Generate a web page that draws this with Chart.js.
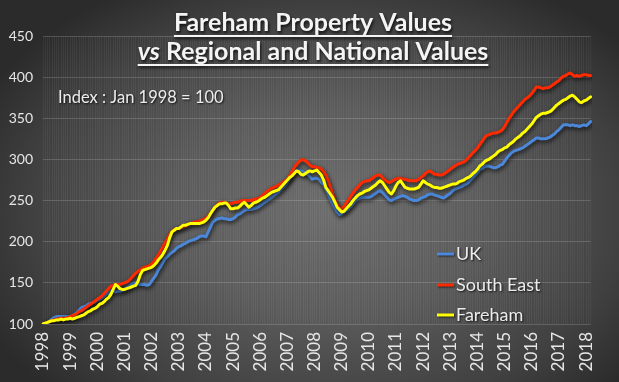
<!DOCTYPE html>
<html>
<head>
<meta charset="utf-8">
<script src="https://cdn.jsdelivr.net/npm/chart.js@4"></script>
<style>
  html, body { margin: 0; padding: 0; }
  body {
    width: 619px; height: 382px; overflow: hidden;
    background: radial-gradient(ellipse 62% 68% at 53% 55%, #6c6c6c 0%, #5b5b5b 40%, #404040 78%, #2b2b2b 100%);
  }
  #wrap { position: relative; width: 619px; height: 382px; }
</style>
</head>
<body>
<div id="wrap"><canvas id="c" width="619" height="382"></canvas></div>
<script>
const years = ['1998','1999','2000','2001','2002','2003','2004','2005','2006','2007','2008','2009','2010','2011','2012','2013','2014','2015','2016','2017','2018'];
const seriesNames = ['UK', 'South East', 'Fareham'];

const ukValues = [
  100,101,102,104,106,108,109,109,109,109,109,109,
  109,110,112,114,117,120,121,122,124,125,126,127,
  129,130,132,134,136,138,140,140,139,140,140,141,
  142,144,146,148,150,150,149,148,148,148,147,148,
  152,156,160,166,170,175,180,182,185,187,189,192,
  194,195,197,198,200,201,202,203,204,206,207,207,
  206,212,218,224,226,228,228,229,228,228,227,227,
  228,230,233,234,236,238,239,239,239,240,241,242,
  244,246,248,250,252,254,256,258,260,263,266,268,
  272,276,280,285,287,287,286,285,283,282,279,276,
  277,277,276,272,270,264,258,252,246,241,236,233,
  234,236,238,240,243,246,250,252,253,254,254,254,
  254,255,257,259,261,262,260,257,254,251,250,252,
  253,254,255,256,255,254,252,251,250,250,251,253,
  254,255,257,258,258,257,256,255,254,253,255,257,
  259,262,264,265,266,267,269,270,272,275,278,281,
  284,288,289,291,292,292,291,290,290,291,293,294,
  298,302,305,308,310,311,312,313,314,316,318,320,
  322,324,326,326,325,325,325,326,327,329,331,334,
  336,339,342,342,342,341,342,341,341,340,341,342,
  341,343,346
];

const southEastValues = [
  100,101,102,103,104,105,106,106,107,107,107,108,
  109,110,111,113,115,116,118,120,122,124,126,128,
  130,132,134,137,140,143,146,147,148,148,148,149,
  150,151,153,156,159,162,164,166,168,169,170,171,
  173,176,180,184,189,194,199,204,209,212,215,216,
  216,217,218,219,221,222,223,224,224,225,226,227,
  229,231,234,238,242,245,247,248,248,247,246,246,
  247,248,248,249,250,250,250,250,250,251,252,252,
  254,256,259,261,263,265,266,267,269,270,272,274,
  276,280,285,290,294,297,299,300,298,296,293,291,
  291,290,290,288,285,281,274,266,258,250,245,241,
  240,243,247,251,255,259,263,266,269,272,273,274,
  274,276,278,280,281,281,278,275,273,272,273,275,
  276,277,277,276,276,275,274,274,274,274,276,278,
  280,283,285,286,284,282,282,281,281,282,284,286,
  288,290,292,294,295,296,297,299,302,305,308,311,
  314,318,322,326,329,330,331,332,332,333,334,336,
  340,345,350,354,358,361,364,367,370,373,375,377,
  380,384,388,388,387,386,387,387,388,390,392,394,
  396,399,401,402,404,405,403,401,402,401,402,403,
  403,402,402
];

const farehamValues = [
  100,101,102,103,104,104,105,105,106,105,106,106,
  107,106,107,108,109,110,111,113,115,116,118,119,
  121,124,125,127,130,132,136,142,148,146,143,142,
  142,143,144,145,146,147,152,160,165,166,167,168,
  169,171,174,178,181,185,190,196,205,212,214,216,
  216,218,220,220,221,222,222,222,222,222,223,224,
  226,229,234,238,242,244,246,246,247,247,244,240,
  240,241,241,243,246,248,245,242,244,247,248,249,
  251,253,254,256,258,260,261,262,263,266,269,272,
  275,278,280,283,286,285,282,281,283,285,286,285,
  286,287,284,281,275,266,262,258,254,248,242,239,
  236,237,240,243,246,250,253,256,258,259,261,262,
  263,265,267,269,272,274,272,268,264,260,258,262,
  268,272,274,270,266,265,264,264,264,265,266,270,
  274,272,270,269,267,266,266,265,265,266,267,268,
  269,270,270,271,273,274,275,277,278,280,283,285,
  288,292,294,297,299,300,302,304,306,309,311,312,
  314,315,318,320,322,325,327,329,332,334,337,340,
  343,347,351,353,355,356,356,357,358,360,363,366,
  368,370,372,373,375,377,378,376,373,370,369,371,
  372,374,376
];

const yTicks = [100,150,200,250,300,350,400,450];
const seriesColors = ['#4C88DA', '#FF2A00', '#FFFF00'];

const monthLabels = ukValues.map((_, i) => years[Math.floor(i / 12)] + '-' + String(i % 12 + 1).padStart(2, '0'));

const FONT = 'Lato, "Open Sans", "DejaVu Sans", sans-serif';

const shadowPlugin = {
  id: 'lineShadow',
  beforeDatasetDraw(chart) {
    const ctx = chart.ctx;
    ctx.save();
    ctx.shadowColor = 'rgba(0,0,0,0.75)';
    ctx.shadowBlur = 4;
    ctx.shadowOffsetX = 1;
    ctx.shadowOffsetY = 2;
  },
  afterDatasetDraw(chart) {
    chart.ctx.restore();
  }
};

const overlayPlugin = {
  id: 'overlay',
  afterDraw(chart) {
    const ctx = chart.ctx;
    const cx = 313;
    ctx.save();
    ctx.fillStyle = '#f4f4f4';
    ctx.strokeStyle = '#f4f4f4';
    ctx.shadowColor = 'rgba(0,0,0,0.8)';
    ctx.shadowBlur = 3;
    ctx.shadowOffsetX = 1;
    ctx.shadowOffsetY = 2;
    ctx.textBaseline = 'alphabetic';
    ctx.textAlign = 'left';

    const TS = 25;
    // Title line 1
    ctx.font = 'bold ' + TS + 'px ' + FONT;
    const t1 = 'Fareham Property Values';
    const w1 = ctx.measureText(t1).width;
    ctx.fillText(t1, cx - w1 / 2, 31);
    ctx.fillRect(cx - w1 / 2, 35, w1, 2);

    // Title line 2 (mixed italic)
    const a = 'vs';
    const b = ' Regional and National Values';
    ctx.font = 'italic bold ' + TS + 'px ' + FONT;
    const wa = ctx.measureText(a).width;
    ctx.font = 'bold ' + TS + 'px ' + FONT;
    const wb = ctx.measureText(b).width;
    const x2 = cx - (wa + wb) / 2;
    ctx.font = 'italic bold ' + TS + 'px ' + FONT;
    ctx.fillText(a, x2, 60);
    ctx.font = 'bold ' + TS + 'px ' + FONT;
    ctx.fillText(b, x2 + wa, 60);
    ctx.fillRect(x2, 64, wa + wb, 2);

    // Subtitle
    ctx.shadowBlur = 2;
    ctx.shadowOffsetY = 1;
    ctx.font = '16.5px ' + FONT;
    ctx.fillStyle = '#ececec';
    ctx.textBaseline = 'middle';
    ctx.fillText('Index : Jan 1998 = 100', 58, 98);

    // Legend
    const ly = [254, 285, 315];
    chart.data.datasets.forEach((ds, i) => {
      ctx.save();
      ctx.shadowColor = 'rgba(0,0,0,0.6)';
      ctx.shadowBlur = 2;
      ctx.strokeStyle = ds.borderColor;
      ctx.lineWidth = 3;
      ctx.beginPath();
      ctx.moveTo(437, ly[i]);
      ctx.lineTo(454, ly[i]);
      ctx.stroke();
      ctx.restore();
      ctx.fillStyle = '#ececec';
      ctx.font = '18px ' + FONT;
      ctx.fillText(ds.label, 456, ly[i]);
    });
    ctx.restore();
  }
};

new Chart(document.getElementById('c'), {
  type: 'line',
  data: {
    labels: monthLabels,
    datasets: [
      { label: seriesNames[0], data: ukValues, borderColor: seriesColors[0], order: 3 },
      { label: seriesNames[1], data: southEastValues, borderColor: seriesColors[1], order: 2 },
      { label: seriesNames[2], data: farehamValues, borderColor: seriesColors[2], order: 1 }
    ]
  },
  options: {
    responsive: false,
    animation: false,
    devicePixelRatio: 1,
    layout: { padding: { top: 36, right: 17, bottom: 4, left: 0 } },
    elements: {
      line: { borderWidth: 3, tension: 0, borderJoinStyle: 'round', borderCapStyle: 'round' },
      point: { radius: 0 }
    },
    plugins: {
      legend: { display: false },
      tooltip: { enabled: false },
      title: { display: false }
    },
    scales: {
      x: {
        type: 'category',
        offset: false,
        border: { display: false },
        grid: { color: 'rgba(255,255,255,0.05)', lineWidth: 1, drawTicks: false },
        afterFit(scale) { scale.height = 54; },
        ticks: {
          autoSkip: false,
          minRotation: 90,
          maxRotation: 90,
          padding: 8,
          color: '#e6e6e6',
          font: { family: FONT, size: 17 },
          callback(value, index) {
            return index % 12 === 0 ? years[index / 12] : '';
          }
        }
      },
      y: {
        min: 100,
        max: 450,
        border: { display: false },
        afterFit(scale) { scale.width = 43; },
        afterBuildTicks(scale) { scale.ticks = yTicks.map(v => ({ value: v })); },
        grid: { color: 'rgba(255,255,255,0.16)', lineWidth: 1, drawTicks: false },
        ticks: {
          padding: 10,
          color: '#e6e6e6',
          font: { family: FONT, size: 14 }
        }
      }
    }
  },
  plugins: [shadowPlugin, overlayPlugin]
});
</script>
</body>
</html>
